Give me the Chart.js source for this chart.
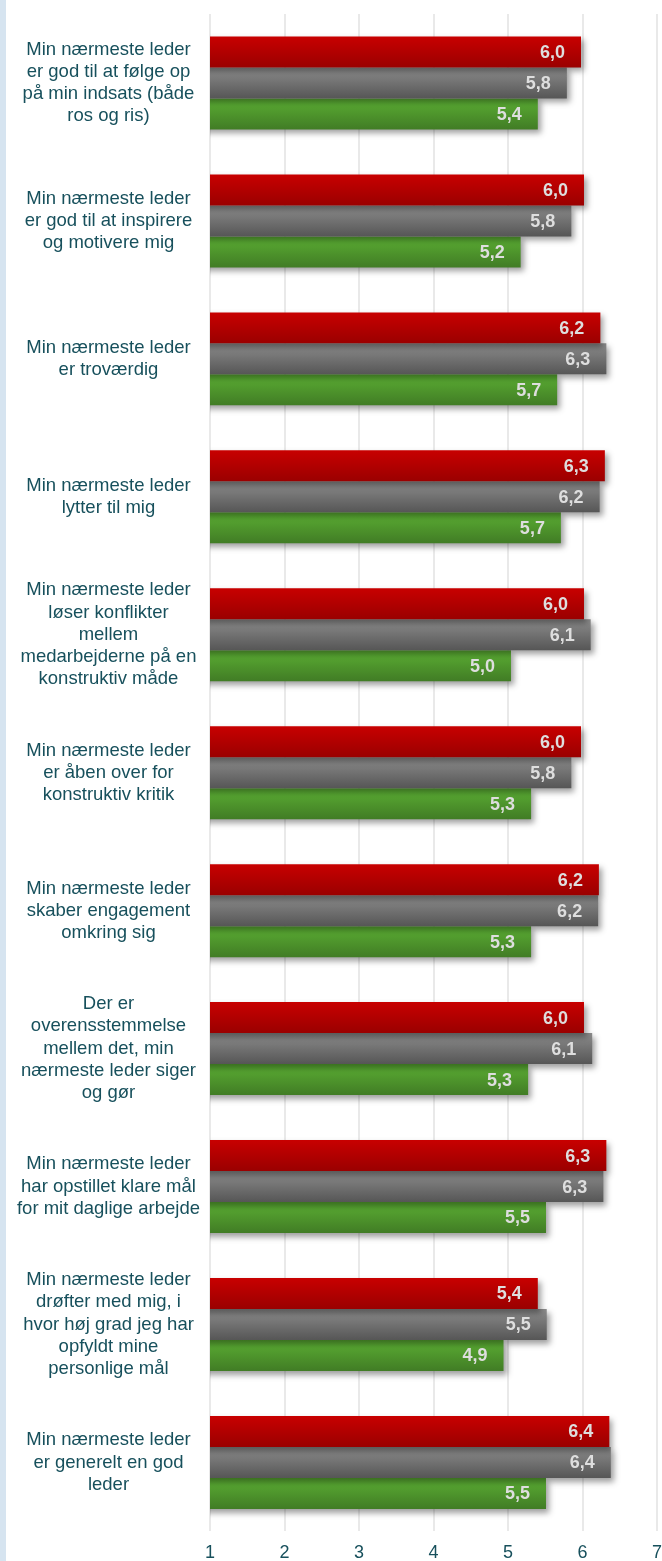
<!DOCTYPE html>
<html>
<head>
<meta charset="utf-8">
<script src="https://cdn.jsdelivr.net/npm/chart.js@4/dist/chart.umd.min.js"></script>
<style>
  html, body { margin: 0; padding: 0; background: #ffffff; }
  #wrap { position: relative; width: 662px; height: 1561px; overflow: hidden; }
  #strip { position: absolute; left: 0; top: 0; width: 6px; height: 1561px; background: #d6e4f0; }
  canvas { position: absolute; left: 0; top: 0; }
</style>
</head>
<body>
<div id="wrap">
  <canvas id="c" width="662" height="1561"></canvas>
  <div id="strip"></div>
</div>
<script>
// ---- data ----
const categories = [
  ["Min nærmeste leder", "er god til at følge op", "på min indsats (både", "ros og ris)"],
  ["Min nærmeste leder", "er god til at inspirere", "og motivere mig"],
  ["Min nærmeste leder", "er troværdig"],
  ["Min nærmeste leder", "lytter til mig"],
  ["Min nærmeste leder", "løser konflikter", "mellem", "medarbejderne på en", "konstruktiv måde"],
  ["Min nærmeste leder", "er åben over for", "konstruktiv kritik"],
  ["Min nærmeste leder", "skaber engagement", "omkring sig"],
  ["Der er", "overensstemmelse", "mellem det, min", "nærmeste leder siger", "og gør"],
  ["Min nærmeste leder", "har opstillet klare mål", "for mit daglige arbejde"],
  ["Min nærmeste leder", "drøfter med mig, i", "hvor høj grad jeg har", "opfyldt mine", "personlige mål"],
  ["Min nærmeste leder", "er generelt en god", "leder"]
];
const seriesRed   = [5.98, 6.02, 6.24, 6.30, 6.02, 5.98, 6.22, 6.02, 6.32, 5.40, 6.36];
const seriesGray  = [5.79, 5.85, 6.32, 6.23, 6.11, 5.85, 6.21, 6.13, 6.28, 5.52, 6.38];
const seriesGreen = [5.40, 5.17, 5.66, 5.71, 5.04, 5.31, 5.31, 5.27, 5.51, 4.94, 5.51];
const xTicks = [1, 2, 3, 4, 5, 6, 7];

// ---- styles ----
const gradStops = [
  ['#c80000', '#9a0000'],
  ['#8c8c8c', '#565656'],
  ['#5bae33', '#417c25']
];
const fontFamily = 'Arial, "Liberation Sans", sans-serif';
const textColor = '#17505c';

const gradientPlugin = {
  id: 'barGradient',
  beforeDatasetsDraw(chart) {
    const ctx = chart.ctx;
    chart.data.datasets.forEach((ds, di) => {
      const meta = chart.getDatasetMeta(di);
      meta.data.forEach(el => {
        const top = el.y - el.height / 2;
        const bot = el.y + el.height / 2;
        const g = ctx.createLinearGradient(0, top, 0, bot);
        g.addColorStop(0, gradStops[di][0]);
        g.addColorStop(1, gradStops[di][1]);
        el.options = Object.assign({}, el.options, { backgroundColor: g });
      });
    });
  },
  beforeDatasetDraw(chart) {
    const ctx = chart.ctx;
    ctx.save();
    ctx.shadowColor = 'rgba(0,0,0,0.38)';
    ctx.shadowBlur = 6;
    ctx.shadowOffsetX = 3;
    ctx.shadowOffsetY = 4;
  },
  afterDatasetDraw(chart) {
    chart.ctx.restore();
  },
  afterDatasetsDraw(chart) {
    const ctx = chart.ctx;
    ctx.save();
    ctx.font = 'bold 18px ' + fontFamily;
    ctx.fillStyle = '#dedede';
    ctx.textAlign = 'right';
    ctx.textBaseline = 'middle';
    chart.data.datasets.forEach((ds, di) => {
      const meta = chart.getDatasetMeta(di);
      meta.data.forEach((el, i) => {
        const txt = ds.data[i].toFixed(1).replace('.', ',');
        ctx.fillText(txt, el.x - 16, el.y + 1);
      });
    });
    ctx.restore();
  }
};

new Chart(document.getElementById('c'), {
  type: 'bar',
  data: {
    labels: categories,
    datasets: [
      { label: 'Serie 1', data: seriesRed, backgroundColor: gradStops[0][0] },
      { label: 'Serie 2', data: seriesGray, backgroundColor: gradStops[1][0] },
      { label: 'Serie 3', data: seriesGreen, backgroundColor: gradStops[2][0] }
    ]
  },
  options: {
    indexAxis: 'y',
    responsive: false,
    animation: false,
    devicePixelRatio: 1,
    layout: { padding: { top: 14, right: 5, bottom: -14, left: 0 } },
    datasets: { bar: { categoryPercentage: 0.674, barPercentage: 1.0, borderWidth: 0 } },
    plugins: { legend: { display: false }, tooltip: { enabled: false } },
    scales: {
      x: {
        type: 'linear',
        min: 1, max: 7,
        afterBuildTicks(scale) { scale.ticks = xTicks.map(v => ({ value: v })); },
        afterFit(scale) { scale.paddingLeft = 0; scale.paddingRight = 0; },
        grid: { color: '#e9e9e9', lineWidth: 2, drawTicks: false },
        border: { display: false },
        ticks: {
          color: textColor,
          font: { family: fontFamily, size: 18 },
          padding: 11,
          callback: v => String(v)
        }
      },
      y: {
        grid: { display: false, drawTicks: false },
        border: { display: false },
        afterFit(scale) { scale.width = 210; scale.paddingTop = 0; scale.paddingBottom = 0; },
        ticks: {
          autoSkip: false,
          crossAlign: 'center',
          padding: 10,
          color: textColor,
          font: { family: fontFamily, size: 18.5, lineHeight: 1.2 }
        }
      }
    }
  },
  plugins: [gradientPlugin]
});
</script>
</body>
</html>
